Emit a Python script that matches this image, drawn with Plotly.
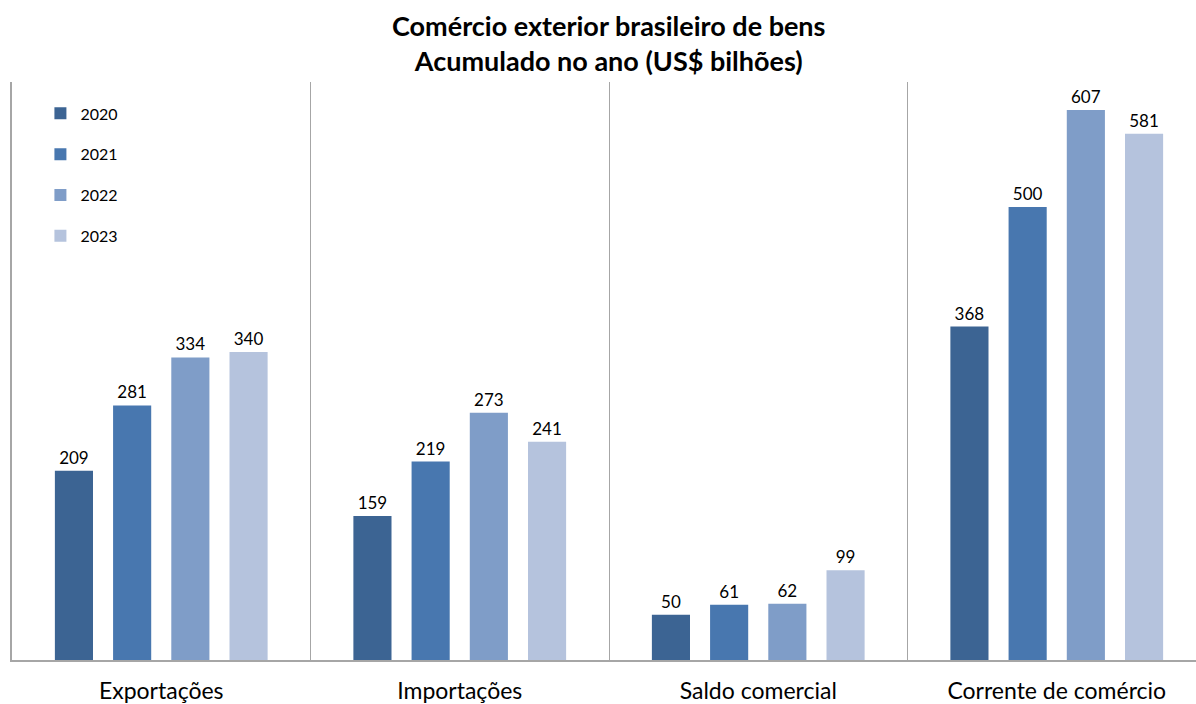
import plotly.graph_objects as go

categorias = ["Exportações", "Importações", "Saldo comercial", "Corrente de comércio"]
anos = ["2020", "2021", "2022", "2023"]
valores_2020 = [209, 159, 50, 368]
valores_2021 = [281, 219, 61, 500]
valores_2022 = [334, 273, 62, 607]
valores_2023 = [340, 241, 99, 581]
cores = ["#3C6493", "#4877AF", "#7F9DC8", "#B5C3DD"]

series = [valores_2020, valores_2021, valores_2022, valores_2023]
fonte = "Lato"

fig = go.Figure()
for ano, vals, cor in zip(anos, series, cores):
    fig.add_trace(go.Bar(
        x=categorias, y=vals, name=ano, legendgroup=ano,
        marker=dict(color=cor, line=dict(width=0)),
        text=[str(v) for v in vals], textposition="outside",
        textfont=dict(family=fonte, size=17, color="#000000"),
        cliponaxis=False,
    ))

fig.update_layout(
    width=1196, height=704,
    margin=dict(l=12, r=0, t=82, b=44, autoexpand=False),
    paper_bgcolor="white", plot_bgcolor="white",
    barmode="group", bargap=0.22, bargroupgap=0.345,
    title=dict(
        text="<b>Comércio exterior brasileiro de bens<br>Acumulado no ano (US$ bilhões)</b>",
        x=0.509, xanchor="center", y=1 - 36 / 704, yanchor="middle",
        font=dict(family=fonte, size=27, color="#000000"),
    ),
    legend=dict(
        x=0.024, y=0.975, xanchor="left", yanchor="top",
        font=dict(family=fonte, size=16, color="#000000"),
        tracegroupgap=17, bgcolor="rgba(0,0,0,0)",
        itemwidth=30,
    ),
    font=dict(family=fonte),
)
fig.update_xaxes(
    type="category", tickson="boundaries", ticks="",
    range=[-0.5, -0.5 + 1184 / 298.5],
    showgrid=True, gridcolor="#A6A6A6", gridwidth=1,
    showline=True, linecolor="#A6A6A6", linewidth=1.5,
    tickfont=dict(family=fonte, size=23, color="#000000"),
    ticklabelstandoff=10, automargin=False,
)
fig.update_yaxes(
    range=[0, 638], showgrid=False, showticklabels=False,
    zeroline=False, showline=True, linecolor="#A6A6A6", linewidth=1.5,
)

fig.write_html("out.html", config={"displayModeBar": False},
               post_script="document.body.style.margin='0';")
